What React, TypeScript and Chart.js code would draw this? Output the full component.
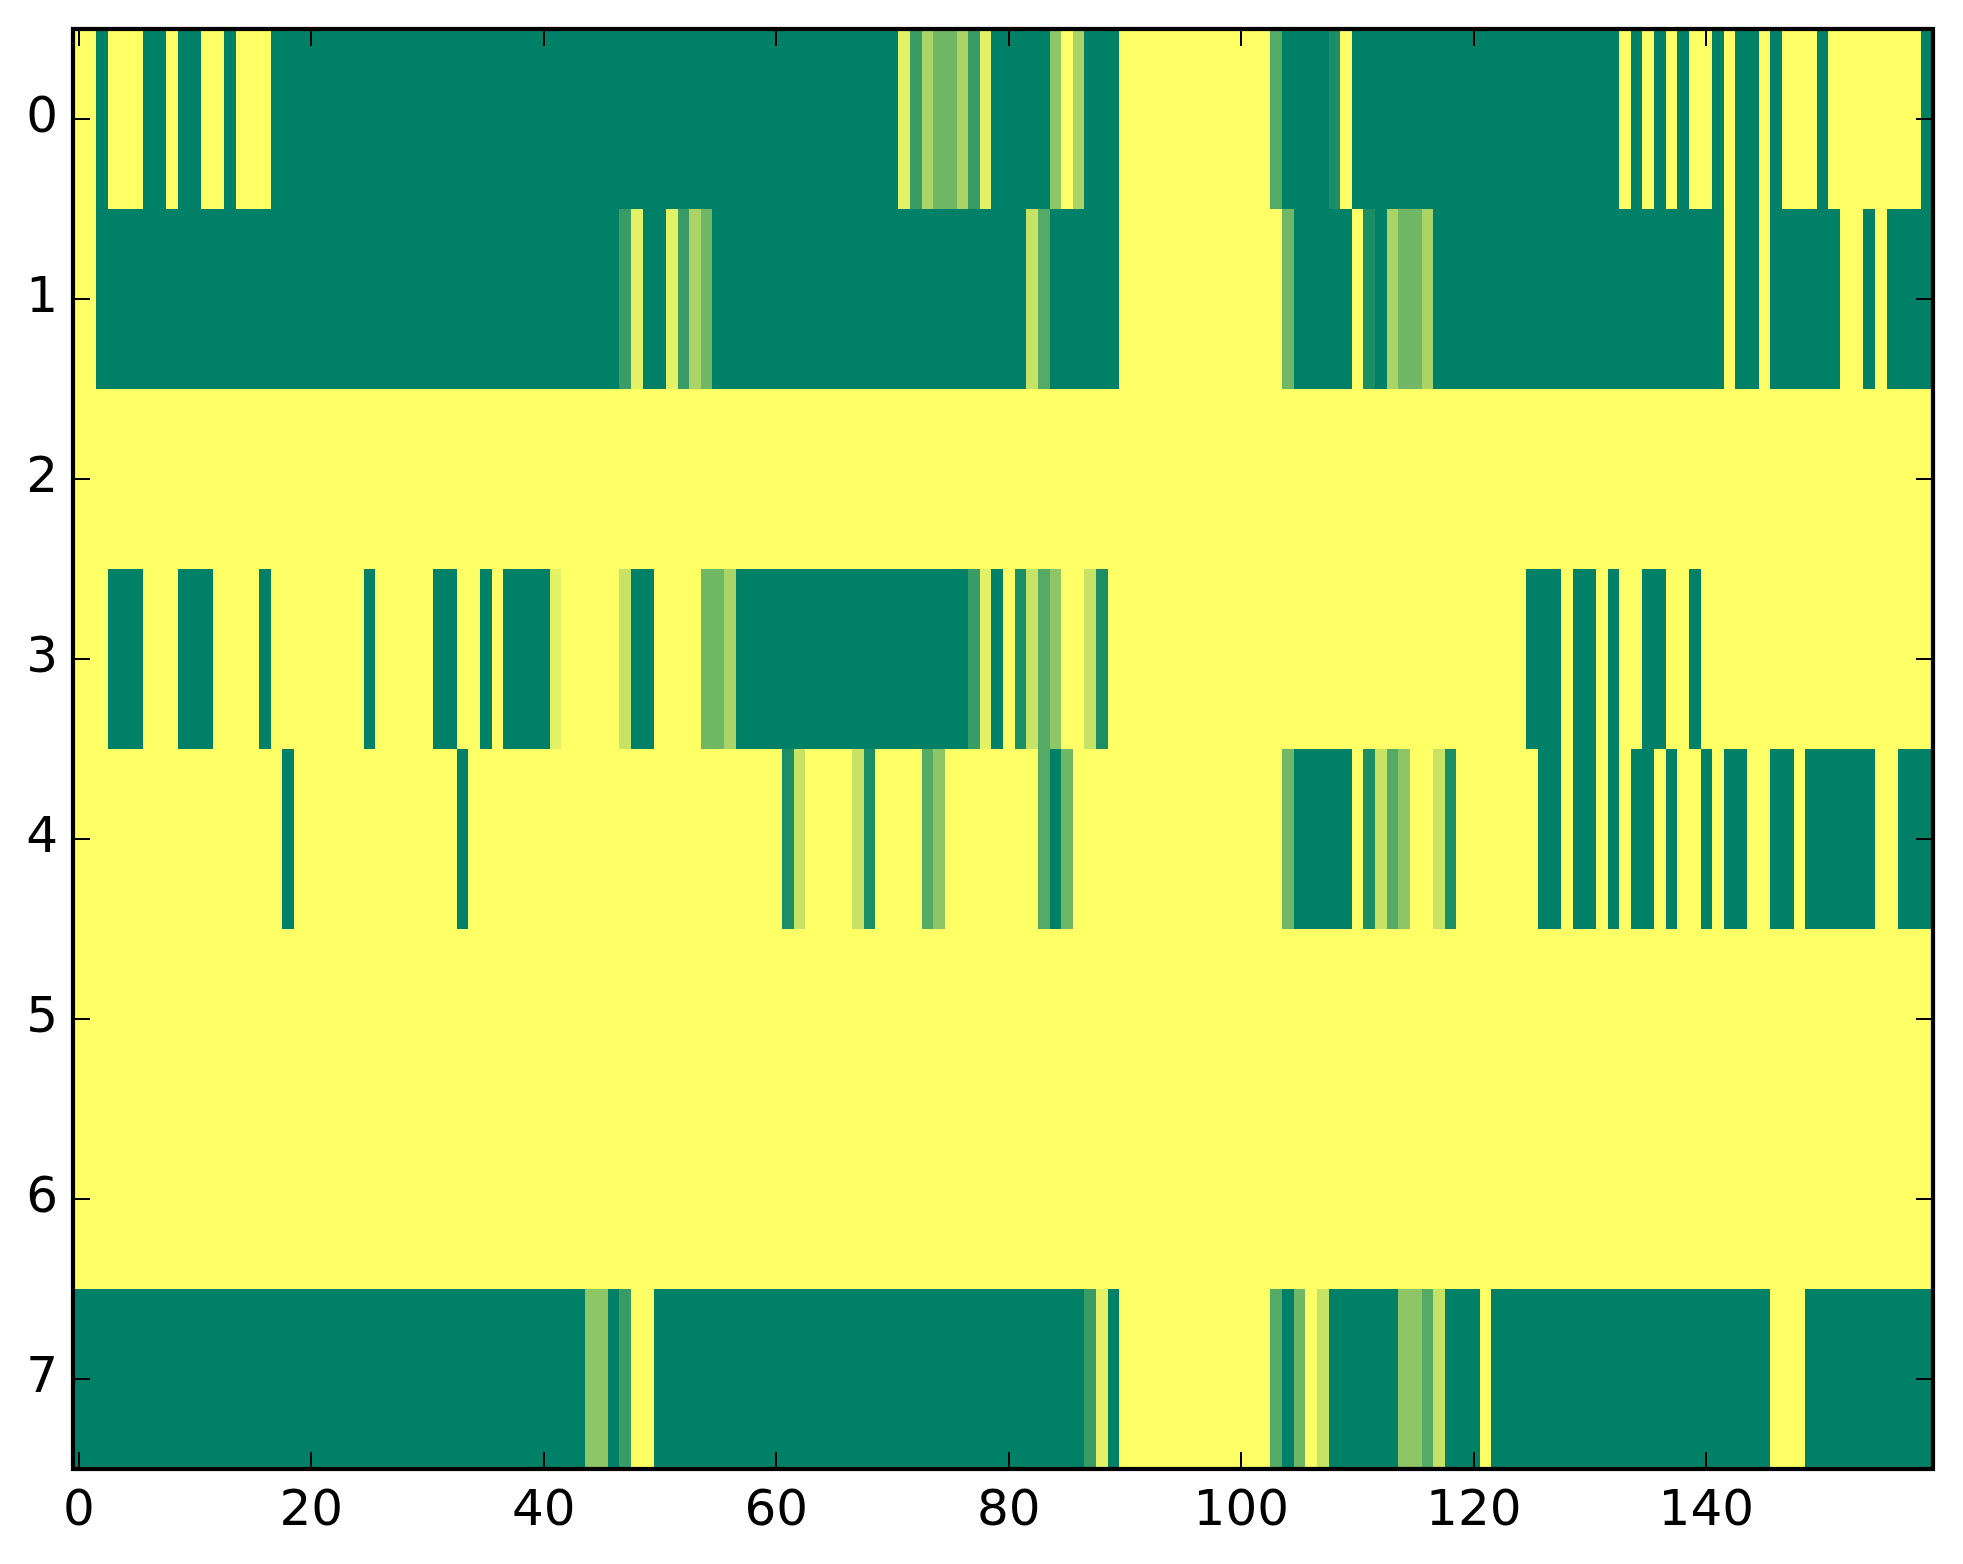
import React, { useEffect, useRef } from "react";
import { Chart, registerables } from "chart.js";

Chart.register(...registerables);

const xTicks = [0, 20, 40, 60, 80, 100, 120, 140];
const yTicks = [0, 1, 2, 3, 4, 5, 6, 7];
const maxLevel = 9;

const row0 = [
  0,0,9,0,0,0,9,9,0,9, 9,0,0,9,0,0,0,9,9,9,
  9,9,9,9,9,9,9,9,9,9, 9,9,9,9,9,9,9,9,9,9,
  9,9,9,9,9,9,9,9,9,9, 9,9,9,9,9,9,9,9,9,9,
  9,9,9,9,9,9,9,9,9,9, 9,1,7,3,5,5,3,7,1,9,
  9,9,9,9,4,0,3,9,9,9, 0,0,0,0,0,0,0,0,0,0,
  0,0,0,6,9,9,9,9,8,0, 9,9,9,9,9,9,9,9,9,9,
  9,9,9,9,9,9,9,9,9,9, 9,9,9,0,9,0,9,0,9,0,
  0,9,0,9,9,0,9,0,0,0, 9,0,0,0,0,0,0,0,0,9,
];
const row1 = [
  0,0,9,9,9,9,9,9,9,9, 9,9,9,9,9,9,9,9,9,9,
  9,9,9,9,9,9,9,9,9,9, 9,9,9,9,9,9,9,9,9,9,
  9,9,9,9,9,9,9,7,1,9, 9,1,7,3,5,9,9,9,9,9,
  9,9,9,9,9,9,9,9,9,9, 9,9,9,9,9,9,9,9,9,9,
  9,9,2,6,9,9,9,9,9,9, 0,0,0,0,0,0,0,0,0,0,
  0,0,0,0,5,9,9,9,9,9, 0,8,9,3,5,5,3,9,9,9,
  9,9,9,9,9,9,9,9,9,9, 9,9,9,9,9,9,9,9,9,9,
  9,9,0,9,9,0,9,9,9,9, 9,9,0,0,9,0,9,9,9,9,
];
const row2 = [
  0,0,0,0,0,0,0,0,0,0, 0,0,0,0,0,0,0,0,0,0,
  0,0,0,0,0,0,0,0,0,0, 0,0,0,0,0,0,0,0,0,0,
  0,0,0,0,0,0,0,0,0,0, 0,0,0,0,0,0,0,0,0,0,
  0,0,0,0,0,0,0,0,0,0, 0,0,0,0,0,0,0,0,0,0,
  0,0,0,0,0,0,0,0,0,0, 0,0,0,0,0,0,0,0,0,0,
  0,0,0,0,0,0,0,0,0,0, 0,0,0,0,0,0,0,0,0,0,
  0,0,0,0,0,0,0,0,0,0, 0,0,0,0,0,0,0,0,0,0,
  0,0,0,0,0,0,0,0,0,0, 0,0,0,0,0,0,0,0,0,0,
];
const row3 = [
  0,0,0,9,9,9,0,0,0,9, 9,9,0,0,0,0,9,0,0,0,
  0,0,0,0,0,9,0,0,0,0, 0,9,9,0,0,9,0,9,9,9,
  9,1,0,0,0,0,0,2,9,9, 0,0,0,0,5,5,3,9,9,9,
  9,9,9,9,9,9,9,9,9,9, 9,9,9,9,9,9,9,7,1,9,
  0,8,2,6,4,0,0,2,8,0, 0,0,0,0,0,0,0,0,0,0,
  0,0,0,0,0,0,0,0,0,0, 0,0,0,0,0,0,0,0,0,0,
  0,0,0,0,0,9,9,9,0,9, 9,0,9,0,0,9,9,0,0,9,
  0,0,0,0,0,0,0,0,0,0, 0,0,0,0,0,0,0,0,0,0,
];
const row4 = [
  0,0,0,0,0,0,0,0,0,0, 0,0,0,0,0,0,0,0,9,0,
  0,0,0,0,0,0,0,0,0,0, 0,0,0,9,0,0,0,0,0,0,
  0,0,0,0,0,0,0,0,0,0, 0,0,0,0,0,0,0,0,0,0,
  0,8,2,0,0,0,0,2,8,0, 0,0,0,6,4,0,0,0,0,0,
  0,0,0,6,9,5,0,0,0,0, 0,0,0,0,0,0,0,0,0,0,
  0,0,0,0,5,9,9,9,9,9, 0,8,2,6,4,0,0,2,8,0,
  0,0,0,0,0,0,9,9,0,9, 9,0,9,0,9,9,0,9,0,0,
  9,0,9,9,0,0,9,9,0,9, 9,9,9,9,9,0,0,9,9,9,
];
const row5 = [
  0,0,0,0,0,0,0,0,0,0, 0,0,0,0,0,0,0,0,0,0,
  0,0,0,0,0,0,0,0,0,0, 0,0,0,0,0,0,0,0,0,0,
  0,0,0,0,0,0,0,0,0,0, 0,0,0,0,0,0,0,0,0,0,
  0,0,0,0,0,0,0,0,0,0, 0,0,0,0,0,0,0,0,0,0,
  0,0,0,0,0,0,0,0,0,0, 0,0,0,0,0,0,0,0,0,0,
  0,0,0,0,0,0,0,0,0,0, 0,0,0,0,0,0,0,0,0,0,
  0,0,0,0,0,0,0,0,0,0, 0,0,0,0,0,0,0,0,0,0,
  0,0,0,0,0,0,0,0,0,0, 0,0,0,0,0,0,0,0,0,0,
];
const row6 = [
  0,0,0,0,0,0,0,0,0,0, 0,0,0,0,0,0,0,0,0,0,
  0,0,0,0,0,0,0,0,0,0, 0,0,0,0,0,0,0,0,0,0,
  0,0,0,0,0,0,0,0,0,0, 0,0,0,0,0,0,0,0,0,0,
  0,0,0,0,0,0,0,0,0,0, 0,0,0,0,0,0,0,0,0,0,
  0,0,0,0,0,0,0,0,0,0, 0,0,0,0,0,0,0,0,0,0,
  0,0,0,0,0,0,0,0,0,0, 0,0,0,0,0,0,0,0,0,0,
  0,0,0,0,0,0,0,0,0,0, 0,0,0,0,0,0,0,0,0,0,
  0,0,0,0,0,0,0,0,0,0, 0,0,0,0,0,0,0,0,0,0,
];
const row7 = [
  9,9,9,9,9,9,9,9,9,9, 9,9,9,9,9,9,9,9,9,9,
  9,9,9,9,9,9,9,9,9,9, 9,9,9,9,9,9,9,9,9,9,
  9,9,9,9,4,4,9,7,0,0, 9,9,9,9,9,9,9,9,9,9,
  9,9,9,9,9,9,9,9,9,9, 9,9,9,9,9,9,9,9,9,9,
  9,9,9,9,9,9,9,7,1,9, 0,0,0,0,0,0,0,0,0,0,
  0,0,0,6,9,5,0,2,9,9, 9,9,9,9,4,4,6,2,9,9,
  9,0,9,9,9,9,9,9,9,9, 9,9,9,9,9,9,9,9,9,9,
  9,9,9,9,9,9,0,0,0,9, 9,9,9,9,9,9,9,9,9,9,
];
const rows = [row0, row1, row2, row3, row4, row5, row6, row7];

// matplotlib's summer_r colormap
const levelColor = (v: number) => {
  const t = 1 - v / maxLevel;
  return `rgb(${Math.round(t * 255)},${Math.round((0.5 + t / 2) * 255)},102)`;
};

// Round an edge to a whole pixel; the small nudge makes both bars that share
// an edge land on the same pixel even when the edge falls on exactly x.5.
const snap = (v: number) => Math.round(v + 1e-6);

// Snap each bar to whole pixels, so neighbouring cells meet with no seam,
// the way an image drawn with nearest-neighbour interpolation does.
const snapPlugin = {
  id: "snap",
  beforeDatasetsDraw(chart: any) {
    chart.data.datasets.forEach((_: any, i: number) => {
      for (const el of chart.getDatasetMeta(i).data as any[]) {
        const l = snap(el.x - el.width / 2);
        const r = snap(el.x + el.width / 2);
        el.x = (l + r) / 2;
        el.width = r - l;
        el.y = snap(el.y);
        el.base = snap(el.base);
      }
    });
  },
};

const framePlugin = {
  id: "frame",
  afterDatasetsDraw(chart: any) {
    const { ctx, chartArea: a, scales } = chart;
    ctx.save();
    ctx.strokeStyle = "#000";
    ctx.lineCap = "butt";
    ctx.lineWidth = 2;
    const tickLen = 17;
    ctx.beginPath();
    for (const t of scales.x.ticks) {
      const p = Math.round(scales.x.getPixelForValue(t.value));
      ctx.moveTo(p, a.top);
      ctx.lineTo(p, a.top + tickLen);
      ctx.moveTo(p, a.bottom);
      ctx.lineTo(p, a.bottom - tickLen);
    }
    for (const t of scales.y.ticks) {
      const p = Math.round(scales.y.getPixelForValue(t.value));
      ctx.moveTo(a.left, p);
      ctx.lineTo(a.left + tickLen, p);
      ctx.moveTo(a.right, p);
      ctx.lineTo(a.right - tickLen, p);
    }
    ctx.stroke();
    ctx.lineWidth = 4.2;
    ctx.strokeRect(a.left, a.top, a.right - a.left, a.bottom - a.top);
    ctx.restore();
  },
};

export default function App() {
  const ref = useRef<HTMLCanvasElement>(null);
  useEffect(() => {
    const chart = new Chart(ref.current!, {
      type: "bar",
      data: {
        datasets: rows.map((row, r) => ({
          label: `row ${r}`,
          data: row.map((_, c) => ({ x: c, y: [r - 0.5, r + 0.5] })),
          backgroundColor: row.map(levelColor),
          borderWidth: 0,
          barPercentage: 1,
          categoryPercentage: 1,
          grouped: false,
          inflateAmount: 0,
        })),
      } as any,
      options: {
        animation: false,
        responsive: false,
        devicePixelRatio: 1,
        layout: { autoPadding: false, padding: { left: 0, top: 29, right: 30, bottom: 0 } },
        plugins: { legend: { display: false }, tooltip: { enabled: false } },
        scales: {
          x: {
            type: "linear",
            min: -0.5,
            max: 159.5,
            offset: false,
            grid: { display: false, drawTicks: false },
            border: { display: false },
            afterBuildTicks: (s: any) => {
              s.ticks = xTicks.map((value) => ({ value }));
            },
            afterFit: (s: any) => {
              s.height = 95;
              s.paddingLeft = s.paddingRight = s.paddingTop = s.paddingBottom = 0;
            },
            ticks: {
              autoSkip: false,
              maxRotation: 0,
              padding: 13,
              color: "#000",
              font: { family: "DejaVu Sans", size: 50 },
              callback: (v: any) => String(v),
            },
          },
          y: {
            type: "linear",
            reverse: true,
            min: -0.5,
            max: 7.5,
            grid: { display: false, drawTicks: false },
            border: { display: false },
            afterBuildTicks: (s: any) => {
              s.ticks = yTicks.map((value) => ({ value }));
            },
            afterFit: (s: any) => {
              s.width = 73;
              s.paddingLeft = s.paddingRight = s.paddingTop = s.paddingBottom = 0;
            },
            ticks: {
              autoSkip: false,
              padding: 15,
              color: "#000",
              font: { family: "DejaVu Sans", size: 50 },
              callback: (v: any) => String(v),
            },
          },
        },
      } as any,
      plugins: [snapPlugin, framePlugin],
    });
    return () => chart.destroy();
  }, []);
  return (
    <canvas
      ref={ref}
      width={1963}
      height={1564}
      style={{ position: "fixed", left: 0, top: 0, width: 1963, height: 1564, display: "block" }}
    />
  );
}
